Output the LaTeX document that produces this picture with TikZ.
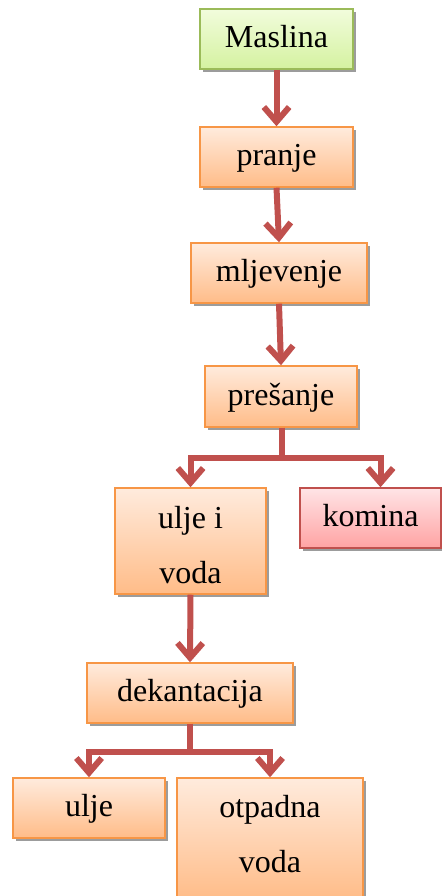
\documentclass[tikz,border=0pt]{standalone}
\usepackage{fontspec}
\setmainfont{Liberation Serif}
\usetikzlibrary{arrows.meta,shadows}
\definecolor{orT}{HTML}{FFEBDD}
\definecolor{orBt}{HTML}{FFBC88}
\definecolor{orB}{HTML}{F79646}
\definecolor{grT}{HTML}{F2FCDC}
\definecolor{grBt}{HTML}{D4F2A0}
\definecolor{grB}{HTML}{9BBB59}
\definecolor{rdT}{HTML}{FFE4E6}
\definecolor{rdBt}{HTML}{FFA3A3}
\definecolor{rdB}{HTML}{C0504D}
\definecolor{arrc}{HTML}{C0504D}
\definecolor{shd}{HTML}{9C9C9C}
\begin{document}
\begin{tikzpicture}[x=0.75pt,y=-0.75pt,
  box/.style={draw=orB, line width=1.1pt, top color=orT, bottom color=orBt,
    drop shadow={shadow xshift=2.3pt,shadow yshift=-2.6pt,fill=shd,opacity=1},
    inner sep=0pt, minimum height=45pt,
    font=\fontsize{24}{41}\selectfont, text height=18.7pt, text depth=5.3pt},
  greenbox/.style={box, draw=grB, top color=grT, bottom color=grBt},
  redbox/.style={box, draw=rdB, top color=rdT, bottom color=rdBt},
  txt/.style={anchor=base, inner sep=0pt, font=\fontsize{24}{41}\selectfont},
  arr/.style={draw=arrc, line width=4.5pt, line join=miter,
    -{Straight Barb[length=11pt,width=19pt]}}
]
\useasboundingbox (0,0) rectangle (442,896);

\node[greenbox, minimum width=114.75pt] (m) at (276.5,39) {Maslina};
\node[box, minimum width=114.75pt] (p) at (276.5,157) {pranje};
\node[box, minimum width=132pt] (mj) at (279,273) {mljevenje};
\node[box, minimum width=114pt, minimum height=45.75pt] (ps) at (281,396.5) {prešanje};
\node[box, minimum width=113.25pt, minimum height=79.5pt] (uv) at (190.5,541) {};
\node[txt] (uv1) at (190.5,528) {ulje i};
\node[txt] (uv2) at (190.5,583) {voda};
\node[redbox, minimum width=105.75pt] (kom) at (370.5,518) {komina};
\node[box, minimum width=154.5pt] (dk) at (190,693) {dekantacija};
\node[box, minimum width=114pt] (u) at (89,808) {ulje};
\node[box, minimum width=139.5pt, minimum height=91.5pt] (ov) at (270,839) {};
\node[txt] (ov1) at (270,817) {otpadna};
\node[txt] (ov2) at (270,872) {voda};

\draw[arr] (m.south) -- (p.north);
\draw[arr] (p.south) -- (mj.north);
\draw[arr] (mj.south) -- (ps.north);

\coordinate (j1) at (282,458);
\coordinate (kt) at ([xshift=7.5pt]kom.north);
\draw[arr] (ps.south -| j1) -- (j1) -| (uv.north);
\draw[arr] (j1) -| (kt);

\draw[arr] (uv.south) -- (dk.north);

\coordinate (j2) at (190,752);
\draw[arr] (dk.south) -- (j2) -| (u.north);
\draw[arr] (j2) -| (ov.north);
\end{tikzpicture}
\end{document}
